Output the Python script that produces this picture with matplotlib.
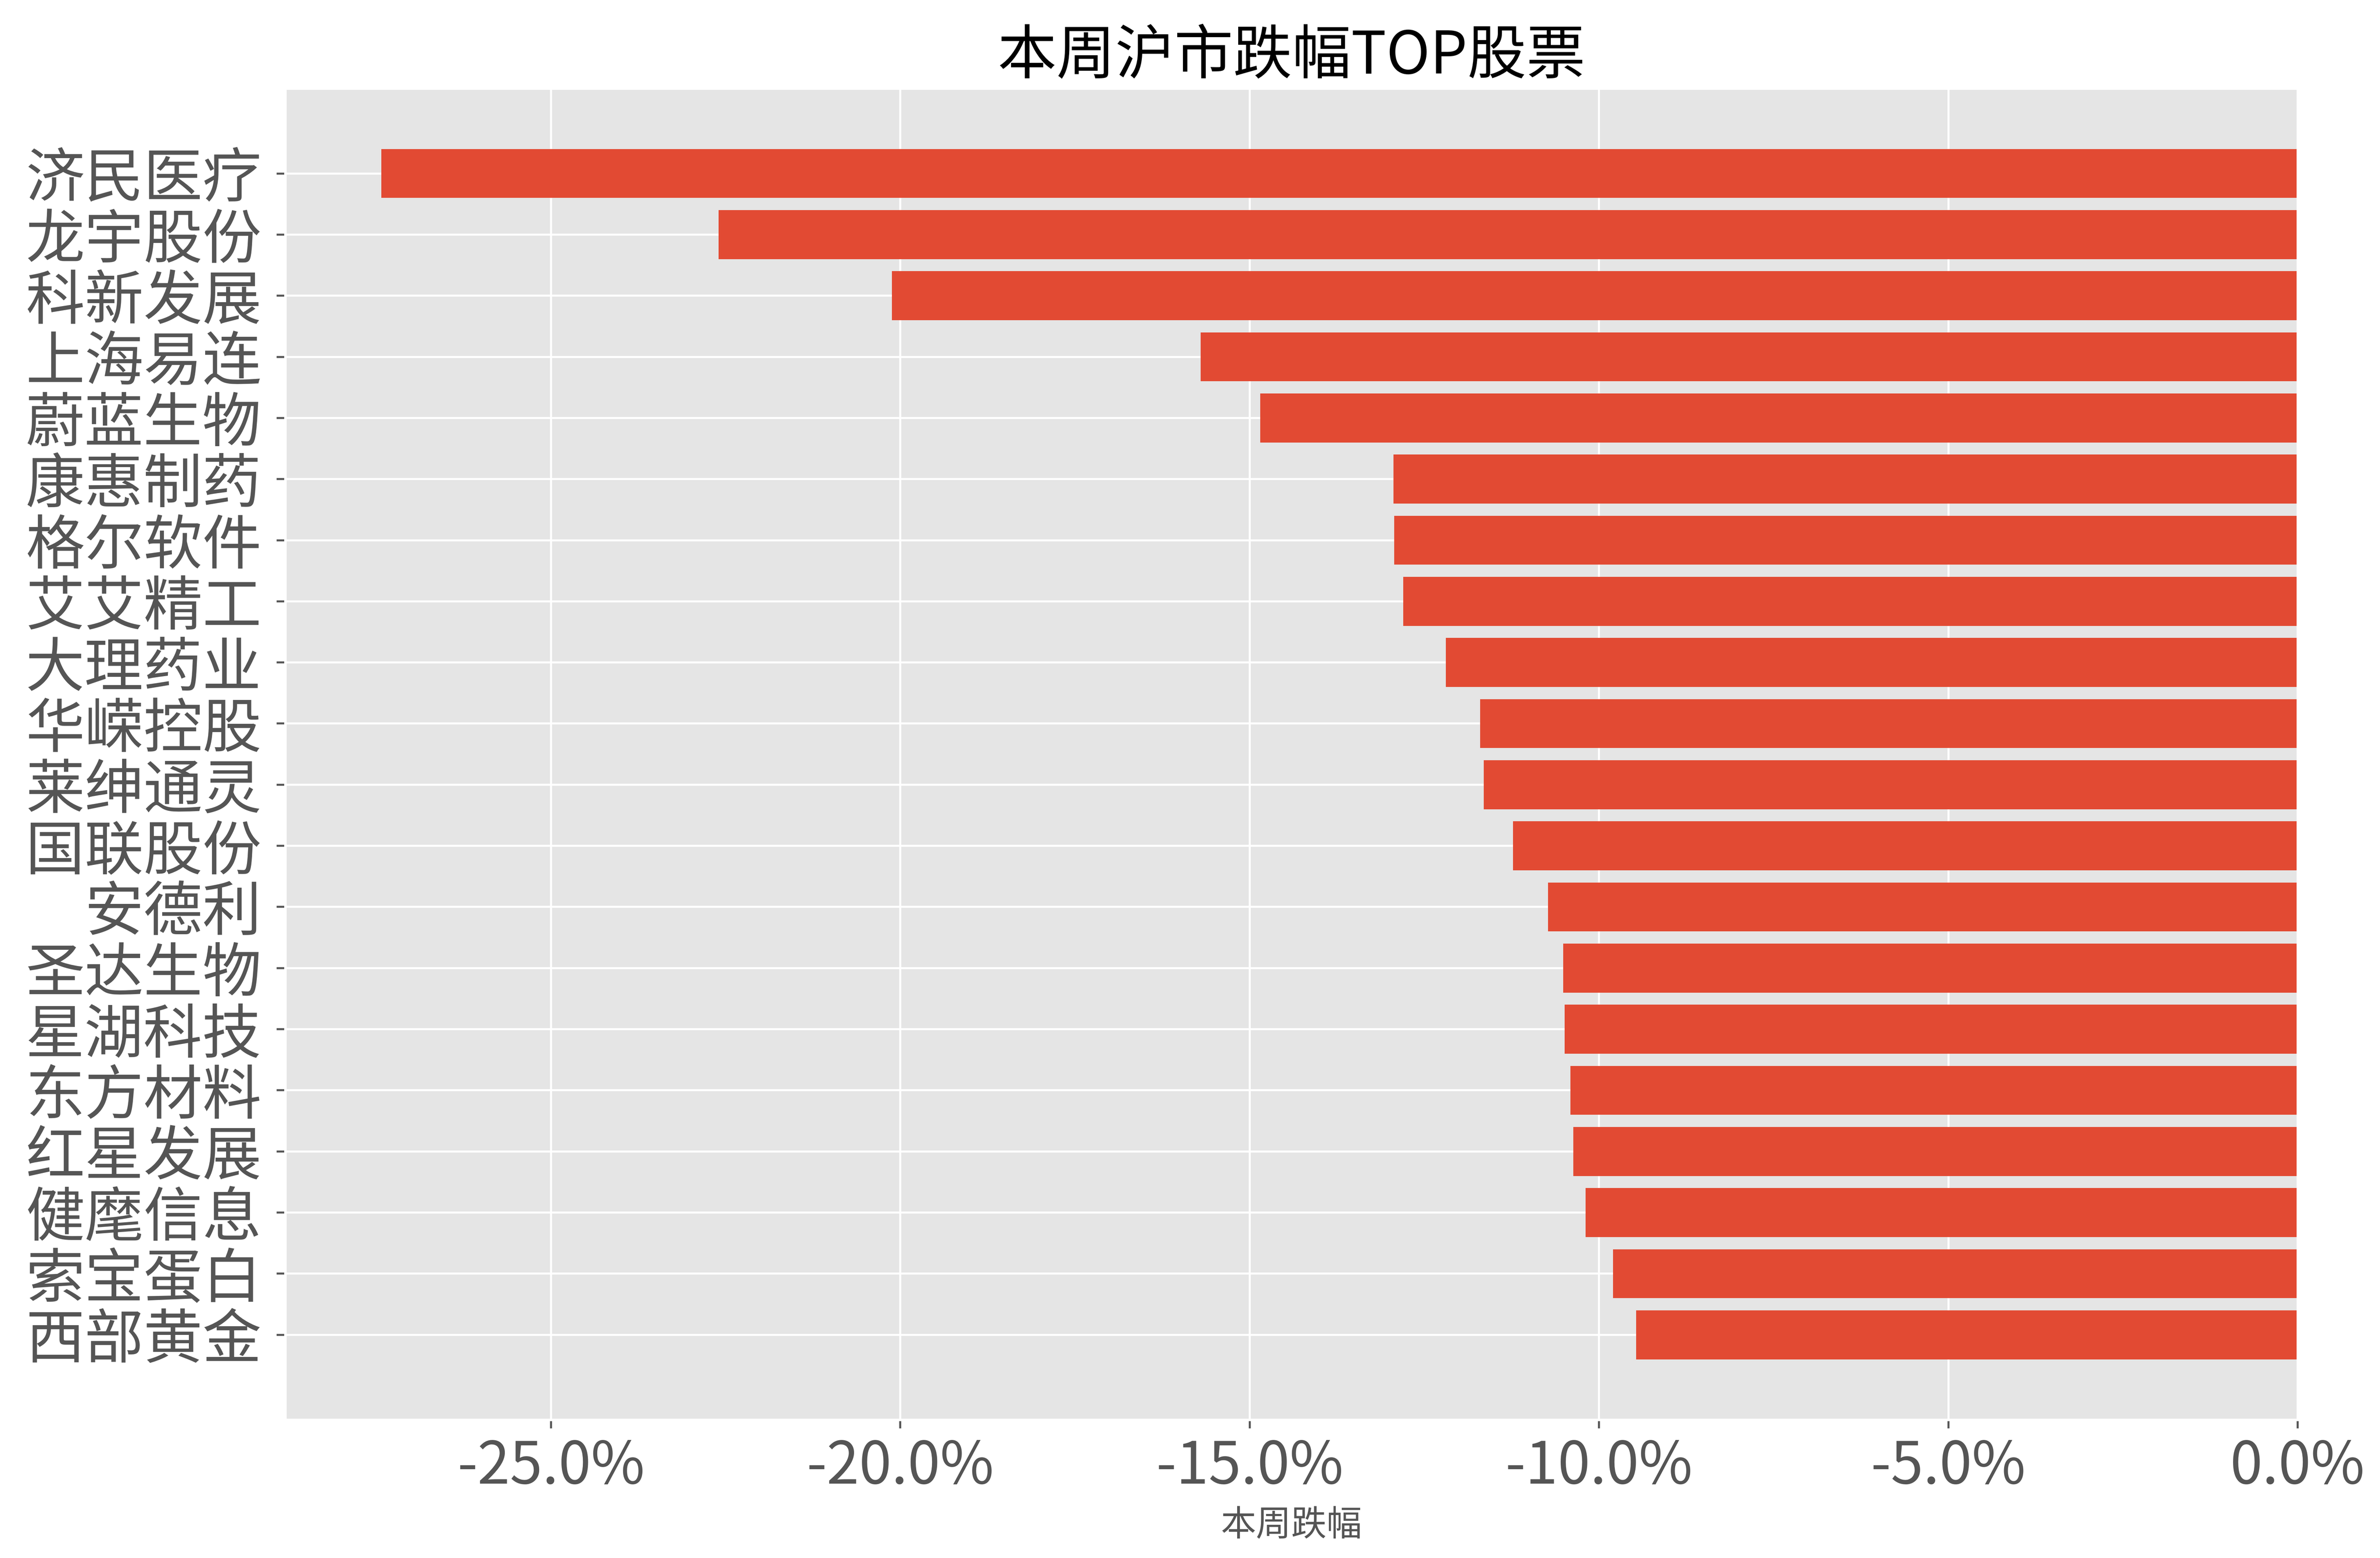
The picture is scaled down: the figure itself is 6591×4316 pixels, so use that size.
import matplotlib
matplotlib.use("Agg")
import matplotlib.pyplot as plt
from matplotlib.ticker import PercentFormatter

plt.style.use("ggplot")
plt.rcParams["font.family"] = ["Noto Sans CJK SC", "DejaVu Sans"]
plt.rcParams["axes.unicode_minus"] = False

# 本周沪市跌幅 (%), top of chart first
names = ["济民医疗", "龙宇股份", "科新发展", "上海易连", "蔚蓝生物",
         "康惠制药", "格尔软件", "艾艾精工", "大理药业", "华嵘控股",
         "莱绅通灵", "国联股份", "安德利", "圣达生物", "星湖科技",
         "东方材料", "红星发展", "健麾信息", "索宝蛋白", "西部黄金"]
changes = [-27.43, -22.60, -20.12, -15.70, -14.85,
           -12.94, -12.93, -12.80, -12.19, -11.70,
           -11.65, -11.23, -10.73, -10.51, -10.49,
           -10.41, -10.37, -10.19, -9.80, -9.47]

DPI = 500
fig, ax = plt.subplots(figsize=(6591 / DPI, 4316 / DPI), dpi=DPI)
fig.subplots_adjust(left=0.1199, right=0.9654, bottom=0.0887, top=0.9432)

ax.barh(range(len(names)), changes, color="#E24A33")
ax.set_yticks(range(len(names)))
ax.set_yticklabels(names, fontsize=23.5)
ax.invert_yaxis()
ax.set_xlim(right=0)
ax.xaxis.set_major_formatter(PercentFormatter(decimals=1))
ax.tick_params(axis="x", labelsize=23.3)
ax.tick_params(axis="y", pad=6)

ax.set_title("本周沪市跌幅TOP股票", fontsize=23.5, color="black")
ax.set_xlabel("本周跌幅", fontsize=14.1)

fig.savefig("out.png", dpi=DPI)
